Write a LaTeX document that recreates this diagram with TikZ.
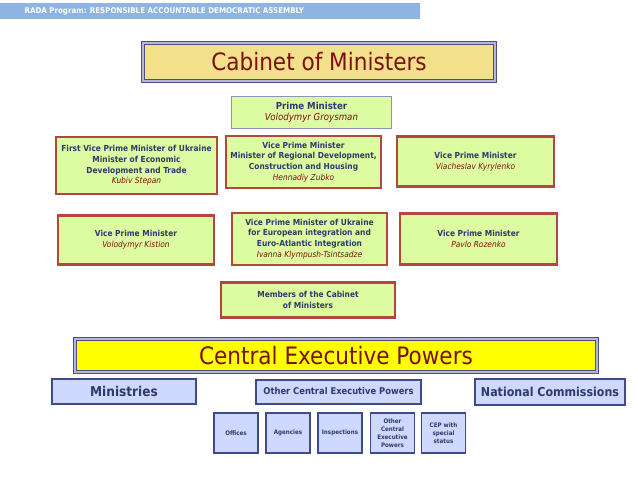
\documentclass[tikz,border=0pt]{standalone}
\usepackage{fontspec}
\setmainfont{DejaVu Sans Condensed}
\definecolor{barblue}{HTML}{8DB4E2}
\definecolor{cabfill}{HTML}{F3E08A}
\definecolor{cabline}{HTML}{4A4E86}
\definecolor{vpmfill}{HTML}{DDFBA0}
\definecolor{vpmline}{HTML}{B5463F}
\definecolor{cepfill}{HTML}{FFFF00}
\definecolor{orgfill}{HTML}{CFD8FF}
\definecolor{orgline}{HTML}{3F4A88}
\definecolor{txtblue}{HTML}{2E3A6A}
\definecolor{txtred}{HTML}{7A1010}
\def\pscale{1pt}
\newcommand{\who}[1]{\\{\mdseries\itshape\color{txtred}#1}}
\begin{document}
\begin{tikzpicture}[%
	x=\pscale, y=-\pscale,%
	title/.style ={draw=cabline, double=cabline!40, double distance=1.2pt, line width=1.3pt, text=txtred, font=\fontsize{24}{26}\selectfont},%
	vpm/.style ={draw=vpmline, line width=2.4pt, fill=vpmfill, outer sep=0pt, text=txtblue, align=center, inner sep=1pt, font=\fontsize{8.3}{10.8}\selectfont\bfseries},%
	org/.style ={draw=orgline, line width=2pt, fill=orgfill, outer sep=0pt, text=txtblue, align=center, inner sep=1pt, font=\bfseries},%
	]
\useasboundingbox (0,0) rectangle (638,479);
\fill [white] (0,0) rectangle (638,479);
%%% header
	\fill [barblue] (0,3) rectangle (420,19);
	\node [anchor=west, white, font=\fontsize{7.9}{9}\selectfont\bfseries] (head) at (21,11) {RADA Program: RESPONSIBLE ACCOUNTABLE DEMOCRATIC ASSEMBLY};
%%% header
%%% cabinet
	\node [title, fill=cabfill, minimum width=352, minimum height=38] (cab) at (319,62) {Cabinet of Ministers};
	\node [vpm, draw=orgline!60, line width=1.5pt, minimum width=160, minimum height=32, font=\fontsize{9.6}{11.5}\selectfont\bfseries] (pm) at (311.5,112.5) {Prime Minister\who{Volodymyr Groysman}};
	\node [vpm, minimum width=161, minimum height=57] (fvpm) at (136.5,165.5) {First Vice Prime Minister of Ukraine\\Minister of Economic\\Development and Trade\who{Kubiv Stepan}};
	\node [vpm, minimum width=155, minimum height=52] (reg) at (303.5,162) {Vice Prime Minister\\Minister of Regional Development,\\Construction and Housing\who{Hennadiy Zubko}};
	\node [vpm, minimum width=157, minimum height=50] (kyr) at (475.5,161.5) {Vice Prime Minister\who{Viacheslav Kyrylenko}};
	\node [vpm, minimum width=156, minimum height=49] (kis) at (136,240) {Vice Prime Minister\who{Volodymyr Kistion}};
	\node [vpm, minimum width=155, minimum height=52] (eu) at (309.5,239) {Vice Prime Minister of Ukraine\\for European integration and\\Euro-Atlantic Integration\who{Ivanna Klympush-Tsintsadze}};
	\node [vpm, minimum width=157, minimum height=51] (roz) at (478.5,239) {Vice Prime Minister\who{Pavlo Rozenko}};
	\node [vpm, minimum width=174, minimum height=35] (mem) at (308,300) {Members of the Cabinet\\of Ministers};
%%% cabinet
%%% executive
	\node [title, fill=cepfill, minimum width=522, minimum height=33] (cep) at (336,355.5) {Central Executive Powers};
	\node [org, minimum width=144, minimum height=25, font=\fontsize{13.5}{15}\selectfont\bfseries] (min) at (124,391) {Ministries};
	\node [org, minimum width=165, minimum height=24, font=\fontsize{9.3}{11}\selectfont\bfseries] (ocep) at (338.5,391.5) {Other Central Executive Powers};
	\node [org, minimum width=150, minimum height=26, font=\fontsize{12.3}{14}\selectfont\bfseries] (nc) at (550,391.5) {National Commissions};
	\foreach \x/\name/\txt in {236/off/Offices, 288/agn/Agencies, 340/ins/Inspections, 392.5/oth/{Other\\Central\\Executive\\Powers}, 443.5/spc/{CEP with\\special\\status}}
		{\node [org, line width=1.6pt, minimum width=44, minimum height=40, font=\fontsize{6.2}{7.8}\selectfont\bfseries] (\name) at (\x,433) {\txt};}
%%% executive
\end{tikzpicture}
\end{document}
